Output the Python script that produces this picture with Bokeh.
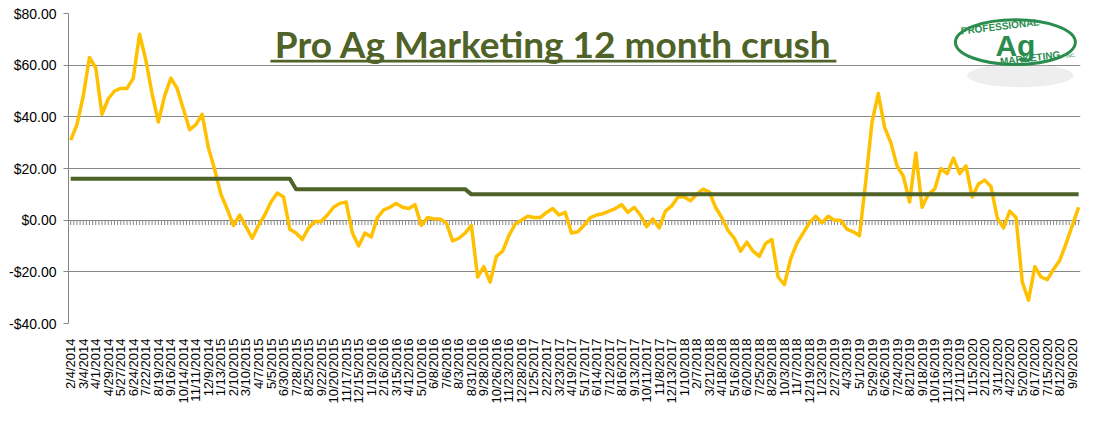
from math import pi
from bokeh.plotting import figure
from bokeh.models import FixedTicker, NumeralTickFormatter, Range1d, BoxAnnotation
from bokeh.embed import file_html
from bokeh.resources import INLINE
from bokeh.core.properties import value

# ---------------- data ----------------
# 12 month crush margin, sampled every two weeks
crush_values = [
    31, 37, 48, 63, 59, 41, 47, 50, 51, 51,
    55, 72, 62, 49, 38, 48, 55, 51, 43, 35,
    37, 41, 28, 19.6, 10, 4.3, -2, 2, -2.5, -7,
    -2, 2, 7, 10.5, 9, -3.5, -5, -7.5, -3, -0.5,
    -0.5, 2, 5, 6.5, 7, -5, -10, -5, -6.5, 1,
    4, 5, 6.5, 5, 4.5, 6, -2, 1, 0.5, 0.5,
    -1, -8, -7, -5, -2, -22, -18, -24, -14, -12,
    -6, -1.5, 0, 1.5, 1, 1, 3, 4.5, 2, 3,
    -5, -4.5, -2, 1, 2, 2.5, 3.5, 4.5, 6, 3,
    5, 2, -2.5, 0.5, -3, 3.5, 5.5, 9, 9, 7.5,
    10, 12, 11, 5, 1, -4, -7, -12, -8.5, -12,
    -14, -9, -7.5, -22, -25, -15, -9, -5, -1, 1.5,
    -1, 1.5, 0, 0, -3.5, -4.5, -6, 15, 38, 49,
    36, 30, 21, 17, 7, 26, 5, 10, 12, 20,
    18, 24, 18, 21, 9, 14, 15.5, 13, 1, -3,
    3.5, 1, -24, -31, -18, -22, -23, -19, -15.5, -9,
    -2, 5,
]
# target level (green line): levels and how many samples each lasts
target_levels = [16, 12, 10]
target_counts = [36, 28, 98]

date_labels = [
    "2/4/2014", "3/4/2014", "4/1/2014", "4/29/2014", "5/27/2014", "6/24/2014",
    "7/22/2014", "8/19/2014", "9/16/2014", "10/14/2014", "11/11/2014", "12/9/2014",
    "1/13/2015", "2/10/2015", "3/10/2015", "4/7/2015", "5/5/2015", "6/30/2015",
    "7/28/2015", "8/25/2015", "9/22/2015", "10/20/2015", "11/17/2015", "12/15/2015",
    "1/19/2016", "2/16/2016", "3/15/2016", "4/12/2016", "5/10/2016", "6/8/2016",
    "7/6/2016", "8/3/2016", "8/31/2016", "9/28/2016", "10/26/2016", "11/23/2016",
    "12/28/2016",
    "1/25/2017", "2/22/2017", "3/23/2017", "4/19/2017", "5/17/2017", "6/14/2017",
    "7/12/2017", "8/16/2017", "9/13/2017", "10/11/2017", "11/8/2017", "12/13/2017",
    "1/10/2018", "2/7/2018", "3/21/2018", "4/18/2018", "5/16/2018", "6/20/2018",
    "7/25/2018", "8/29/2018", "10/3/2018", "11/7/2018", "12/19/2018",
    "1/23/2019", "2/27/2019", "4/3/2019", "5/1/2019", "5/29/2019", "6/26/2019",
    "7/24/2019", "8/21/2019", "9/18/2019", "10/16/2019", "11/13/2019", "12/11/2019",
    "1/15/2020", "2/12/2020", "3/11/2020", "4/22/2020", "5/20/2020", "6/17/2020",
    "7/15/2020", "8/12/2020", "9/9/2020",
]
y_ticks = [-40, -20, 0, 20, 40, 60, 80]
title_text = "Pro Ag Marketing 12 month crush"

# ---------------- derived ----------------
N = len(crush_values)
weeks = [2 * i for i in range(N)]
target = []
for lvl, cnt in zip(target_levels, target_counts):
    target += [lvl] * cnt
n_weeks = weeks[-1] + 1
label_ticks = [4 * i for i in range(len(date_labels))]

GOLD = "#FFC000"
OLIVE = "#4F6228"
GRID = "#878787"
LOGO_GREEN = "#2A8C4E"

p = figure(width=1088, height=406, output_backend="svg", toolbar_location=None,
           x_range=Range1d(-0.7, weeks[-1] + 0.6), y_range=Range1d(-40, 80),
           min_border_left=68, min_border_right=8, min_border_top=13,
           min_border_bottom=78)
p.outline_line_color = None
p.xgrid.grid_line_color = None
p.ygrid.grid_line_color = GRID
p.ygrid.ticker = FixedTicker(ticks=y_ticks)

# y axis
p.yaxis.ticker = FixedTicker(ticks=y_ticks)
p.yaxis.formatter = NumeralTickFormatter(format="$0.00")
p.yaxis.axis_line_color = GRID
p.yaxis.major_tick_line_color = GRID
p.yaxis.major_tick_out = 5
p.yaxis.major_tick_in = 0
p.yaxis.minor_tick_line_color = None
p.yaxis.major_label_standoff = 7
p.yaxis.major_label_text_font = "Liberation Sans"
p.yaxis.major_label_text_font_size = "14px"
p.yaxis.major_label_text_color = "#000000"

# x axis (labels only, at the bottom)
p.xaxis.ticker = FixedTicker(ticks=label_ticks)
p.xaxis.major_label_overrides = {t: lab for t, lab in zip(label_ticks, date_labels)}
p.xaxis.major_label_orientation = pi / 2
p.xaxis.axis_line_color = None
p.xaxis.major_tick_line_color = None
p.xaxis.minor_tick_line_color = None
p.xaxis.major_label_standoff = 9
p.xaxis.major_label_text_font = "Liberation Sans"
p.xaxis.major_label_text_font_size = "13px"
p.xaxis.major_label_text_color = "#000000"

# category tick marks along the zero line
tick_x = list(range(n_weeks))
p.segment(x0=tick_x, y0=[0] * n_weeks, x1=tick_x, y1=[-1.9] * n_weeks,
          line_color=GRID, line_width=1)

# series
p.line(weeks, crush_values, line_color=GOLD, line_width=3.5, line_join="round")
p.line(weeks, target, line_color=OLIVE, line_width=4, line_join="round")

# title with underline
p.text(x=[154.2], y=[68.2], text=[title_text], text_font=value("Lato"),
       text_font_style="bold", text_font_size="37px", text_color=OLIVE,
       text_align="center", text_baseline="alphabetic")
p.add_layout(BoxAnnotation(left=63.8, right=244.6, bottom=61.0, top=62.1,
                           fill_color=OLIVE, fill_alpha=1.0, line_color=None))

# logo
p.ellipse(x=[303.4], y=[56.0], width=34, height=9.0, fill_color="#cfcfcf",
          fill_alpha=0.35, line_color=None)
p.ellipse(x=[301.8], y=[68.9], width=38.3, height=17.3, fill_color=None,
          line_color=LOGO_GREEN, line_width=3)
p.text(x=[301.8], y=[67.5], text=["Ag"], text_font=value("Liberation Sans"),
       text_font_style="bold", text_font_size="30px", text_color=LOGO_GREEN,
       text_align="center", text_baseline="middle")
p.text(x=[296.9, 306.5], y=[75.0, 62.8], text=["PROFESSIONAL", "MARKETING"],
       text_font=value("Liberation Sans"), text_font_style="bold",
       text_font_size="10px", text_color=LOGO_GREEN, text_align="center",
       text_baseline="middle", angle=0.12)
p.text(x=[319.5], y=[63.8], text=["INC."], text_font=value("Liberation Sans"),
       text_font_size="5px", text_color=LOGO_GREEN, text_align="center",
       text_baseline="middle", angle=0.12)

open("out.html", "w").write(file_html(p, INLINE))
